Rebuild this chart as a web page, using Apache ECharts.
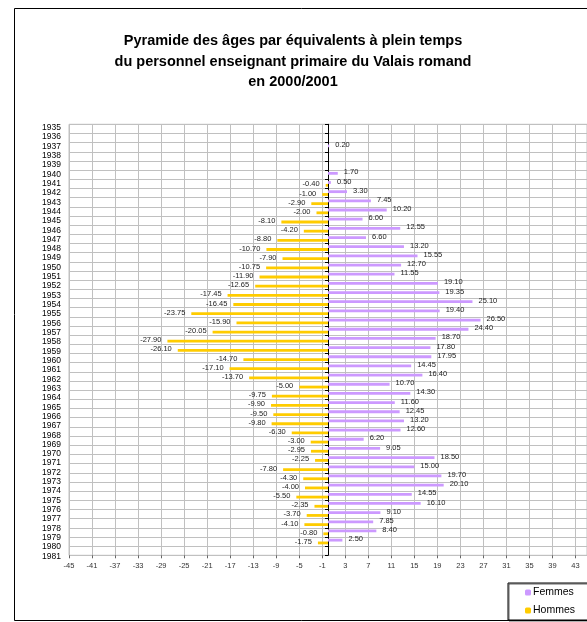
<!DOCTYPE html>
<html>
<head>
<meta charset="utf-8">
<script src="https://cdn.jsdelivr.net/npm/echarts@6/dist/echarts.min.js"></script>
<style>
html, body { margin: 0; padding: 0; background: #fff; overflow: hidden; }
#chart { width: 587px; height: 622px; }
</style>
</head>
<body>
<div id="chart"></div>
<script>
const FONT = 'Arial, "Liberation Sans", sans-serif'

const years = ['1935', '1936', '1937', '1938', '1939', '1940', '1941', '1942', '1943', '1944',
    '1945', '1946', '1947', '1948', '1949', '1950', '1951', '1952', '1953', '1954',
    '1955', '1956', '1957', '1958', '1959', '1960', '1961', '1962', '1963', '1964',
    '1965', '1966', '1967', '1968', '1969', '1970', '1971', '1972', '1973', '1974',
    '1975', '1976', '1977', '1978', '1979', '1980', '1981']

const femmes = [null, null, 0.20, null, null, 1.70, 0.50, 3.30, 7.45, 10.20,
    6.00, 12.55, 6.60, 13.20, 15.55, 12.70, 11.55, 19.10, 19.35, 25.10,
    19.40, 26.50, 24.40, 18.70, 17.80, 17.95, 14.45, 16.40, 10.70, 14.30,
    11.60, 12.45, 13.20, 12.60, 6.20, 9.05, 18.50, 15.00, 19.70, 20.10,
    14.55, 16.10, 9.10, 7.85, 8.40, 2.50, null]

const hommes = [null, null, null, null, null, null, -0.40, -1.00, -2.90, -2.00,
    -8.10, -4.20, -8.80, -10.70, -7.90, -10.75, -11.90, -12.65, -17.45, -16.45,
    -23.75, -15.90, -20.05, -27.90, -26.10, -14.70, -17.10, -13.70, -5.00, -9.75,
    -9.90, -9.50, -9.80, -6.30, -3.00, -2.95, -2.25, -7.80, -4.30, -4.00,
    -5.50, -2.35, -3.70, -4.10, -0.80, -1.75, null]

const xMin = -45
const xMax = 45
const xStep = 4

const chart = echarts.init(document.getElementById('chart'))

const dataLabel = {
    show: true,
    distance: 6,
    offset: [0, -1],
    fontSize: 7.5,
    fontFamily: FONT,
    color: '#222',
    formatter: p => p.value.toFixed(2)
}

chart.setOption({
    animation: false,
    backgroundColor: '#fff',
    title: {
        text: 'Pyramide des âges par équivalents à plein temps\ndu personnel enseignant primaire du Valais romand\nen 2000/2001',
        left: 288,
        top: 25.75,
        textAlign: 'center',
        textStyle: {
            fontFamily: FONT,
            fontSize: 14.5,
            fontWeight: 'bold',
            color: '#000',
            lineHeight: 20.5
        }
    },
    // chart area frame, wider than the visible window on the right
    graphic: [{
        type: 'rect',
        shape: { x: 14.5, y: 8.5, width: 610, height: 612 },
        style: { fill: null, stroke: '#000', lineWidth: 1 },
        z: -1
    }],
    legend: {
        data: ['Femmes', 'Hommes'],
        orient: 'vertical',
        left: 508,
        top: 583,
        itemWidth: 6,
        itemHeight: 6,
        itemGap: 7,
        padding: [4, 30, 4, 17],
        borderColor: '#000',
        borderWidth: 1,
        backgroundColor: '#fff',
        shadowColor: 'rgba(0,0,0,0.6)',
        shadowOffsetX: 1,
        shadowOffsetY: 1,
        textStyle: { fontFamily: FONT, fontSize: 10.5, color: '#000', padding: [0, 0, 0, -3] }
    },
    grid: [{
        left: 69,
        right: 0,
        top: 124.3,
        height: 431,
        show: true,
        borderColor: '#c0c0c0',
        borderWidth: 1
    }, {
        left: 69,
        right: 0,
        top: 123,
        height: 438
    }],
    xAxis: [{
        type: 'value',
        gridIndex: 0,
        min: xMin,
        max: xMax,
        interval: xStep,
        axisLine: { onZero: false, lineStyle: { color: '#666', width: 1.5 } },
        axisTick: { show: true, length: 3, lineStyle: { color: '#666' } },
        axisLabel: {
            fontFamily: FONT,
            fontSize: 7.5,
            color: '#333',
            margin: 7,
            showMaxLabel: false
        },
        splitLine: { show: true, lineStyle: { color: '#c0c0c0', width: 1 } }
    }, {
        type: 'value',
        gridIndex: 1,
        show: false
    }],
    yAxis: [{
        type: 'category',
        gridIndex: 0,
        data: years,
        inverse: true,
        position: 'left',
        axisLine: { show: true, onZero: true, lineStyle: { color: '#000', width: 1 } },
        axisTick: { show: true, length: 3, interval: 0, lineStyle: { color: '#000' } },
        axisLabel: { show: false },
        splitLine: { show: true, interval: 0, lineStyle: { color: '#c0c0c0', width: 1 } }
    }, {
        type: 'category',
        gridIndex: 1,
        data: years,
        inverse: true,
        position: 'left',
        axisLine: { show: false },
        axisTick: { show: false },
        splitLine: { show: false },
        axisLabel: {
            interval: 0,
            margin: 8,
            fontFamily: FONT,
            fontSize: 8.5,
            color: '#000'
        }
    }],
    series: [{
        name: 'Femmes',
        type: 'bar',
        xAxisIndex: 0,
        yAxisIndex: 0,
        data: femmes,
        barWidth: 2.8,
        barGap: '0%',
        itemStyle: { color: '#cc99ff' },
        label: Object.assign({}, dataLabel, { position: 'right' })
    }, {
        name: 'Hommes',
        type: 'bar',
        xAxisIndex: 0,
        yAxisIndex: 0,
        data: hommes,
        barWidth: 2.8,
        barGap: '0%',
        itemStyle: { color: '#ffcc00' },
        label: Object.assign({}, dataLabel, { position: 'left' })
    }]
})
</script>
</body>
</html>
